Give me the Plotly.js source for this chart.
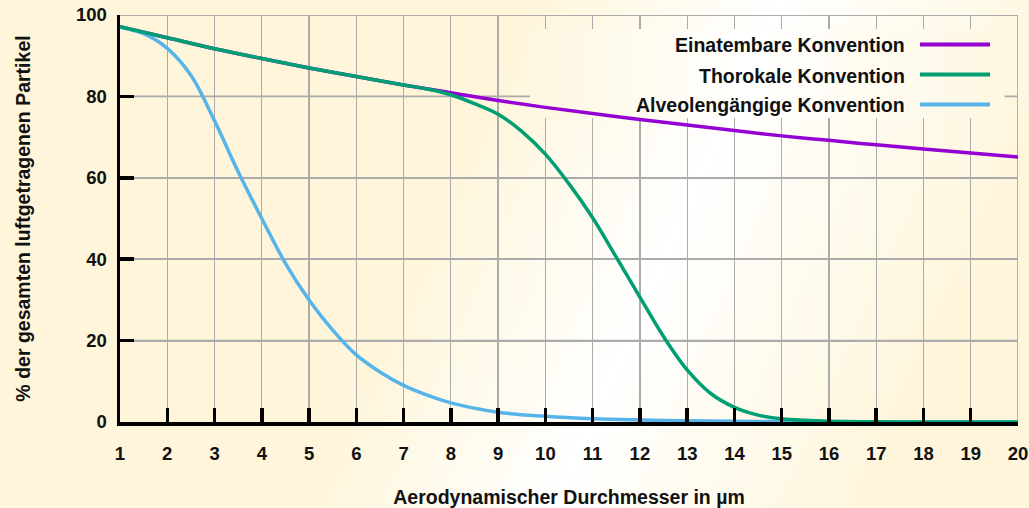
<!DOCTYPE html>
<html>
<head>
<meta charset="utf-8">
<script src="https://cdn.plot.ly/plotly-3.0.1.min.js"></script>
<style>
  html, body { margin: 0; padding: 0; width: 1029px; height: 508px; overflow: hidden; }
  #bg { position: absolute; left: 0; top: 0; width: 1029px; height: 508px; z-index: 0; }
  #chart { position: absolute; left: 0; top: 0; width: 1029px; height: 508px; z-index: 1; }
</style>
</head>
<body>
<div id="bg"></div>
<div id="chart"></div>
<script>
// ---- Data ----
const seriesNames = ['Einatembare Konvention', 'Thorokale Konvention', 'Alveolengängige Konvention'];
const seriesColors = ['#9400D3', '#009E73', '#56B4E9'];

const xInhal = [1,2,3,4,5,6,7,8,9,10,11,12,13,14,15,16,17,18,19,20];
const yInhal = [97.1,94.4,91.7,89.3,87.0,84.9,82.8,80.9,79.0,77.3,75.8,74.3,73.0,71.6,70.3,69.2,68.1,67.1,66.1,65.1];

const xThor = [1,2,3,4,5,6,7,7.5,8,8.5,9,9.5,10,10.5,11,11.5,12,12.5,13,13.5,14,14.5,15,15.5,16,17,18,19,20];
const yThor = [97.1,94.4,91.7,89.3,87.0,84.9,82.8,81.8,80.4,78.2,75.6,71.4,65.8,58.5,50.2,40.5,30.7,21.0,12.8,7.0,3.6,1.7,0.8,0.4,0.2,0.05,0,0,0];

const xResp = [1,1.5,2,2.5,3,3.5,4,4.5,5,5.5,6,6.5,7,7.5,8,9,10,11,12,13,14,15,16,17,18,19,20];
const yResp = [97.0,95.4,91.8,85.2,74.0,61.5,50.0,39.0,30.0,22.6,16.5,12.3,9.0,6.6,4.7,2.4,1.4,0.8,0.5,0.3,0.2,0.1,0.05,0,0,0,0];

const xTicks = [1,2,3,4,5,6,7,8,9,10,11,12,13,14,15,16,17,18,19,20];
const yTicks = [0,20,40,60,80,100];

const xTitle = 'Aerodynamischer Durchmesser in µm';
const yTitle = '% der gesamten luftgetragenen Partikel';

// ---- Background gradient ----
const W = 1029, H = 508;
const bgAngle = 114;
const bgStops = [[0,[254,245,218]],[0.42,[254,245,218]],[0.62,[255,255,255]],[0.88,[254,245,218]],[1,[254,245,218]]];
document.getElementById('bg').style.background = 'linear-gradient(' + bgAngle + 'deg,' +
  bgStops.map(s => 'rgb(' + s[1].join(',') + ') ' + (s[0]*100) + '%').join(',') + ')';

function bgColorAt(px, py) {
  const a = bgAngle * Math.PI / 180;
  const dx = Math.sin(a), dy = -Math.cos(a);
  const L = Math.abs(W*Math.sin(a)) + Math.abs(H*Math.cos(a));
  let t = 0.5 + ((px - W/2)*dx + (py - H/2)*dy) / L;
  t = Math.max(0, Math.min(1, t));
  for (let i = 0; i < bgStops.length - 1; i++) {
    const [t0, c0] = bgStops[i], [t1, c1] = bgStops[i+1];
    if (t >= t0 && t <= t1) {
      const f = t1 === t0 ? 0 : (t - t0)/(t1 - t0);
      return 'rgb(' + c0.map((v,k) => Math.round(v + (c1[k]-v)*f)).join(',') + ')';
    }
  }
  return 'rgb(' + bgStops[bgStops.length-1][1].join(',') + ')';
}

// ---- Plot geometry ----
const M = {l:120, r:11, t:15, b:86};
const xRange = [1, 20], yRange = [0, 100];
const plotW = W - M.l - M.r, plotH = H - M.t - M.b;
const pxToPaperX = px => (px - M.l) / plotW;
const pxToPaperY = py => (H - M.b - py) / plotH;
const pxToDataX = px => xRange[0] + (px - M.l) / plotW * (xRange[1] - xRange[0]);
const pxToDataY = py => yRange[0] + (H - M.b - py) / plotH * (yRange[1] - yRange[0]);

const gridColor = '#ababab';
const shapes = [];
// horizontal grid lines (incl. top frame) and right frame, placed at the tick values
yTicks.filter(v => v > yRange[0]).forEach(v => shapes.push({type:'line', xref:'x', yref:'y', layer:'between',
  x0:xRange[0], x1:xRange[1], y0:v, y1:v, line:{color:gridColor, width:1.8}}));
shapes.push({type:'line', xref:'x', yref:'y', layer:'between',
  x0:xRange[1], x1:xRange[1], y0:yRange[0], y1:yRange[1], line:{color:gridColor, width:1.8}});

// key box: opaque like the original, hides the grid behind the key
const keyBox = {x0:530, x1:1004, y0:29, y1:118};
const nStrips = 24;
for (let i = 0; i < nStrips; i++) {
  const a = keyBox.x0 + (keyBox.x1 - keyBox.x0) * i / nStrips;
  const b = keyBox.x0 + (keyBox.x1 - keyBox.x0) * (i+1) / nStrips;
  shapes.push({type:'rect', xref:'x', yref:'y', layer:'between',
    x0:pxToDataX(a), x1:pxToDataX(b + 0.6), y0:pxToDataY(keyBox.y1), y1:pxToDataY(keyBox.y0),
    fillcolor:bgColorAt((a+b)/2, (keyBox.y0+keyBox.y1)/2), line:{width:0}});
}

const keyRows = [44.5, 74.5, 104.5];
const annotations = [];
seriesNames.forEach((n, i) => {
  annotations.push({xref:'paper', yref:'paper', x:pxToPaperX(907), y:pxToPaperY(keyRows[i]+1),
    xanchor:'right', yanchor:'middle', text:n, showarrow:false,
    font:{size:19.5, weight:'bold', color:'#111'}});
  shapes.push({type:'line', xref:'paper', yref:'paper', layer:'above',
    x0:pxToPaperX(920), x1:pxToPaperX(990), y0:pxToPaperY(keyRows[i]), y1:pxToPaperY(keyRows[i]),
    line:{color:seriesColors[i], width:4}});
});

const traces = [
  {x:xInhal, y:yInhal, name:seriesNames[0]},
  {x:xResp, y:yResp, name:seriesNames[2]},
  {x:xThor, y:yThor, name:seriesNames[1]}
].map(t => ({
  type:'scatter', mode:'lines', x:t.x, y:t.y, name:t.name,
  line:{color:seriesColors[seriesNames.indexOf(t.name)], width:3.5, shape:'spline', smoothing:1},
  hoverinfo:'x+y+name'
}));

const axisCommon = {
  showgrid:true, gridcolor:gridColor, gridwidth:1.3,
  showline:true, linecolor:'#000', linewidth:3.5,
  ticks:'inside', ticklen:14, tickwidth:3.5, tickcolor:'#000',
  zeroline:false, fixedrange:true,
  tickfont:{size:18.5, weight:'bold', color:'#111'}
};

const layout = {
  width:W, height:H, margin:M,
  paper_bgcolor:'rgba(0,0,0,0)', plot_bgcolor:'rgba(0,0,0,0)',
  font:{family:'"Liberation Sans", Arial, sans-serif', color:'#111'},
  showlegend:false,
  xaxis:Object.assign({}, axisCommon, {
    range:xRange, tickmode:'array', tickvals:xTicks, ticktext:xTicks.map(String),
    ticklabelstandoff:12,
    title:{text:xTitle, font:{size:19.5, weight:'bold', color:'#111'}, standoff:36}
  }),
  yaxis:Object.assign({}, axisCommon, {
    range:yRange, tickmode:'array', tickvals:yTicks, ticktext:yTicks.map(String),
    ticklabelstandoff:6, gridwidth:1.8,
    title:{text:yTitle, font:{size:19.5, weight:'bold', color:'#111'}, standoff:41}
  }),
  shapes:shapes,
  annotations:annotations
};

Plotly.newPlot('chart', traces, layout, {displayModeBar:false, staticPlot:true});
</script>
</body>
</html>
